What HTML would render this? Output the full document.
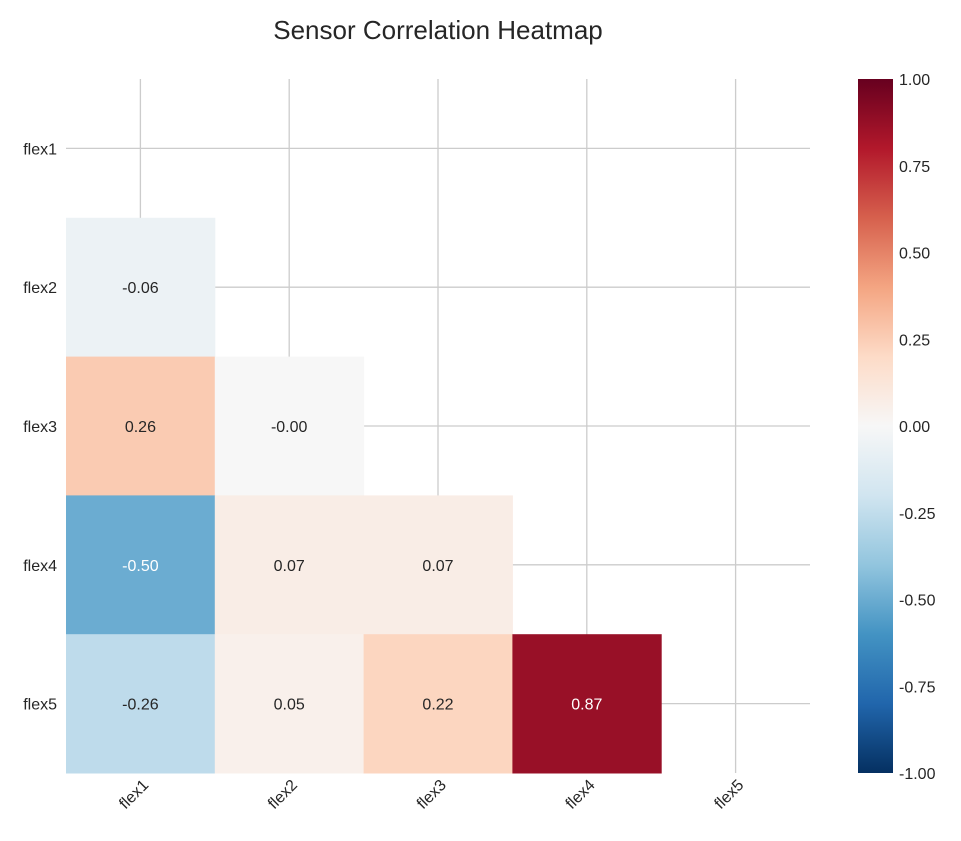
<!DOCTYPE html>
<html><head><meta charset="utf-8"><style>
body{margin:0;background:#fff;}
svg{display:block;font-family:"Liberation Sans","DejaVu Sans",sans-serif;}
</style></head><body>
<svg id="chart" width="961" height="841">
<text x="438" y="39" text-anchor="middle" font-size="26" fill="#262626">Sensor Correlation Heatmap</text>
<defs><linearGradient id="cb" x1="0" y1="1" x2="0" y2="0">
<stop offset="0" stop-color="#053061"/><stop offset="0.1" stop-color="#2166ac"/><stop offset="0.2" stop-color="#4393c3"/><stop offset="0.3" stop-color="#92c5de"/><stop offset="0.4" stop-color="#d1e5f0"/><stop offset="0.5" stop-color="#f7f7f7"/><stop offset="0.6" stop-color="#fddbc7"/><stop offset="0.7" stop-color="#f4a582"/><stop offset="0.8" stop-color="#d6604d"/><stop offset="0.9" stop-color="#b2182b"/><stop offset="1" stop-color="#67001f"/>
</linearGradient></defs>
<g id="grid"></g><g id="cells"></g><g id="labels"></g>
<rect x="858" y="79" width="35" height="694" fill="url(#cb)"/>
<g id="cbticks"></g>
</svg>
<script>
const categories=["flex1","flex2","flex3","flex4","flex5"];
const matrix=[
[1,null,null,null,null],
[-0.06,1,null,null,null],
[0.26,-0.00,1,null,null],
[-0.50,0.07,0.07,1,null],
[-0.26,0.05,0.22,0.87,1]];
const cbTicks=[-1,-0.75,-0.5,-0.25,0,0.25,0.5,0.75,1];
const NS="http://www.w3.org/2000/svg";
const X0=66,X1=810,Y0=79,Y1=773,n=categories.length;
const cw=(X1-X0)/n,ch=(Y1-Y0)/n;
const xS=i=>X0+i*cw, yS=i=>Y0+i*ch;
const stops=["#053061","#2166ac","#4393c3","#92c5de","#d1e5f0","#f7f7f7","#fddbc7","#f4a582","#d6604d","#b2182b","#67001f"];
function hex(h){return[1,3,5].map(k=>parseInt(h.substr(k,2),16));}
function color(v){let t=(v+1)/2*10;let i=Math.min(9,Math.floor(t));let f=t-i;let a=hex(stops[i]),b=hex(stops[i+1]);return"rgb("+a.map((c,k)=>Math.round(c+(b[k]-c)*f)).join(",")+")";}
function mk(tag,attrs,parent){const e=document.createElementNS(NS,tag);for(const k in attrs)e.setAttribute(k,attrs[k]);parent.appendChild(e);return e;}
const grid=document.getElementById("grid"),cells=document.getElementById("cells"),labels=document.getElementById("labels"),cbt=document.getElementById("cbticks");
for(let i=0;i<n;i++){
 let l=mk("line",{x1:xS(i)+cw/2,x2:xS(i)+cw/2,y1:Y0,y2:Y1,stroke:"#cccccc","stroke-width":1.3},grid);
 
 
 let h=mk("line",{x1:X0,x2:X1,y1:yS(i)+ch/2,y2:yS(i)+ch/2,stroke:"#cccccc","stroke-width":1.3},grid);
 
 
 let yl=mk("text",{x:57,y:yS(i)+ch/2+6,"text-anchor":"end","font-size":16,fill:"#262626"},labels);
 yl.textContent=categories[i];
 
 
 let cx=xS(i)+cw/2+9,cy=Y1+13;
 let xl=mk("text",{x:cx,y:cy,"text-anchor":"end","font-size":16,fill:"#262626",transform:"rotate(-45 "+cx+" "+cy+")"},labels);
 xl.textContent=categories[i];
 
 
}
for(let r=0;r<n;r++)for(let c=0;c<r;c++){
 const v=matrix[r][c];
 let rc=mk("rect",{x:xS(c),y:yS(r),width:cw+0.5,height:ch+0.5,fill:color(v)},cells);
 
 
 let t=mk("text",{x:xS(c)+cw/2,y:yS(r)+ch/2+6,"text-anchor":"middle","font-size":16,fill:Math.abs(v)>0.4?"#ffffff":"#262626"},labels);
 t.textContent=(v===0?"-0.00":v.toFixed(2));
 
 
}
for(const v of cbTicks){
 const y=Y1-(v+1)/2*(Y1-Y0);
 let t=mk("text",{x:899,y:y+6,"font-size":16,fill:"#262626"},cbt);
 t.textContent=v.toFixed(2);
 
 
}
</script>
</body></html>
